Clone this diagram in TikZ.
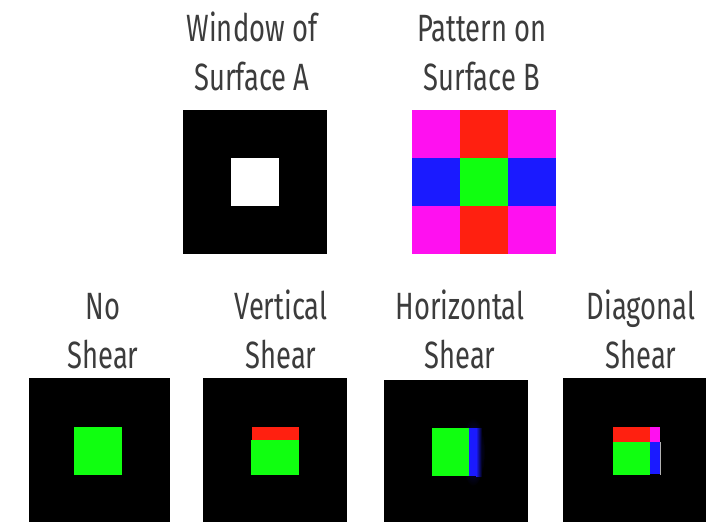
\documentclass[tikz,border=0pt]{standalone}
\usepackage{fontspec}
\setmainfont{Fira Sans}[FakeStretch=0.72]
\definecolor{txtgray}{HTML}{3C3C3C}
\definecolor{pmag}{HTML}{FF10F0}
\definecolor{pred}{HTML}{FF2010}
\definecolor{pblue}{HTML}{1A1AFF}
\definecolor{pgreen}{HTML}{10FF10}
\tikzset{
  lbl/.style={align=center, anchor=base, inner sep=0pt, text=txtgray,
    font=\fontsize{38}{49}\selectfont},
}
\begin{document}
\begin{tikzpicture}[x=1pt, y=-1pt]
    \useasboundingbox (0,0) rectangle (726,522);
    % top row labels (anchor sits on the second line)
    \node[lbl] (winlbl) at (252,90) {Window of\\Surface A};
    \node[lbl] (patlbl) at (482,90) {Pattern on\\Surface B};
    % window of surface A
    \fill[black] (183,110) rectangle (327,254);
    \fill[white] (231,158) rectangle (279,206);
    % pattern on surface B
    \foreach \i/\j/\c in {0/0/pmag, 1/0/pred, 2/0/pmag,
                          0/1/pblue, 1/1/pgreen, 2/1/pblue,
                          0/2/pmag, 1/2/pred, 2/2/pmag}
        \fill[\c] (412+48*\i,110+48*\j) rectangle ++(48,48);
    % bottom row labels
    \node[lbl] (nolbl) at (103,368) {No\\Shear};
    \node[lbl] (verlbl) at (281,368) {Vertical\\Shear};
    \node[lbl] (horlbl) at (460,368) {Horizontal\\Shear};
    \node[lbl] (diaglbl) at (641,368) {Diagonal\\Shear};
    % no shear
    \fill[black] (29,378) rectangle (170,522);
    \fill[pgreen] (74,427) rectangle (122,475);
    % vertical shear
    \fill[black] (203,378) rectangle (347,522);
    \fill[pred] (252,427) rectangle (299,440);
    \fill[pgreen] (251,440) rectangle (299,475);
    % horizontal shear
    \fill[black] (384,380) rectangle (528,522);
    \shade[inner color=pblue!45!black, outer color=black] (473,452) ellipse (12 and 34);
    \fill[pblue] (469,428) rectangle (476,476);
    \shade[left color=pblue, right color=black] (476,428) rectangle (482,476);
    \fill[pgreen] (432,428) rectangle (469,476);
    % diagonal shear
    \fill[black] (563,378) rectangle (706,522);
    \fill[pred] (613,427) rectangle (650,442);
    \fill[pmag] (650,427) rectangle (660,442);
    \fill[pgreen] (613,442) rectangle (650,475);
    \fill[pblue] (650,442) rectangle (660,474);
    \draw[gray!60, line width=0.8pt] (660,442) -- (660,475);
\end{tikzpicture}
\end{document}
